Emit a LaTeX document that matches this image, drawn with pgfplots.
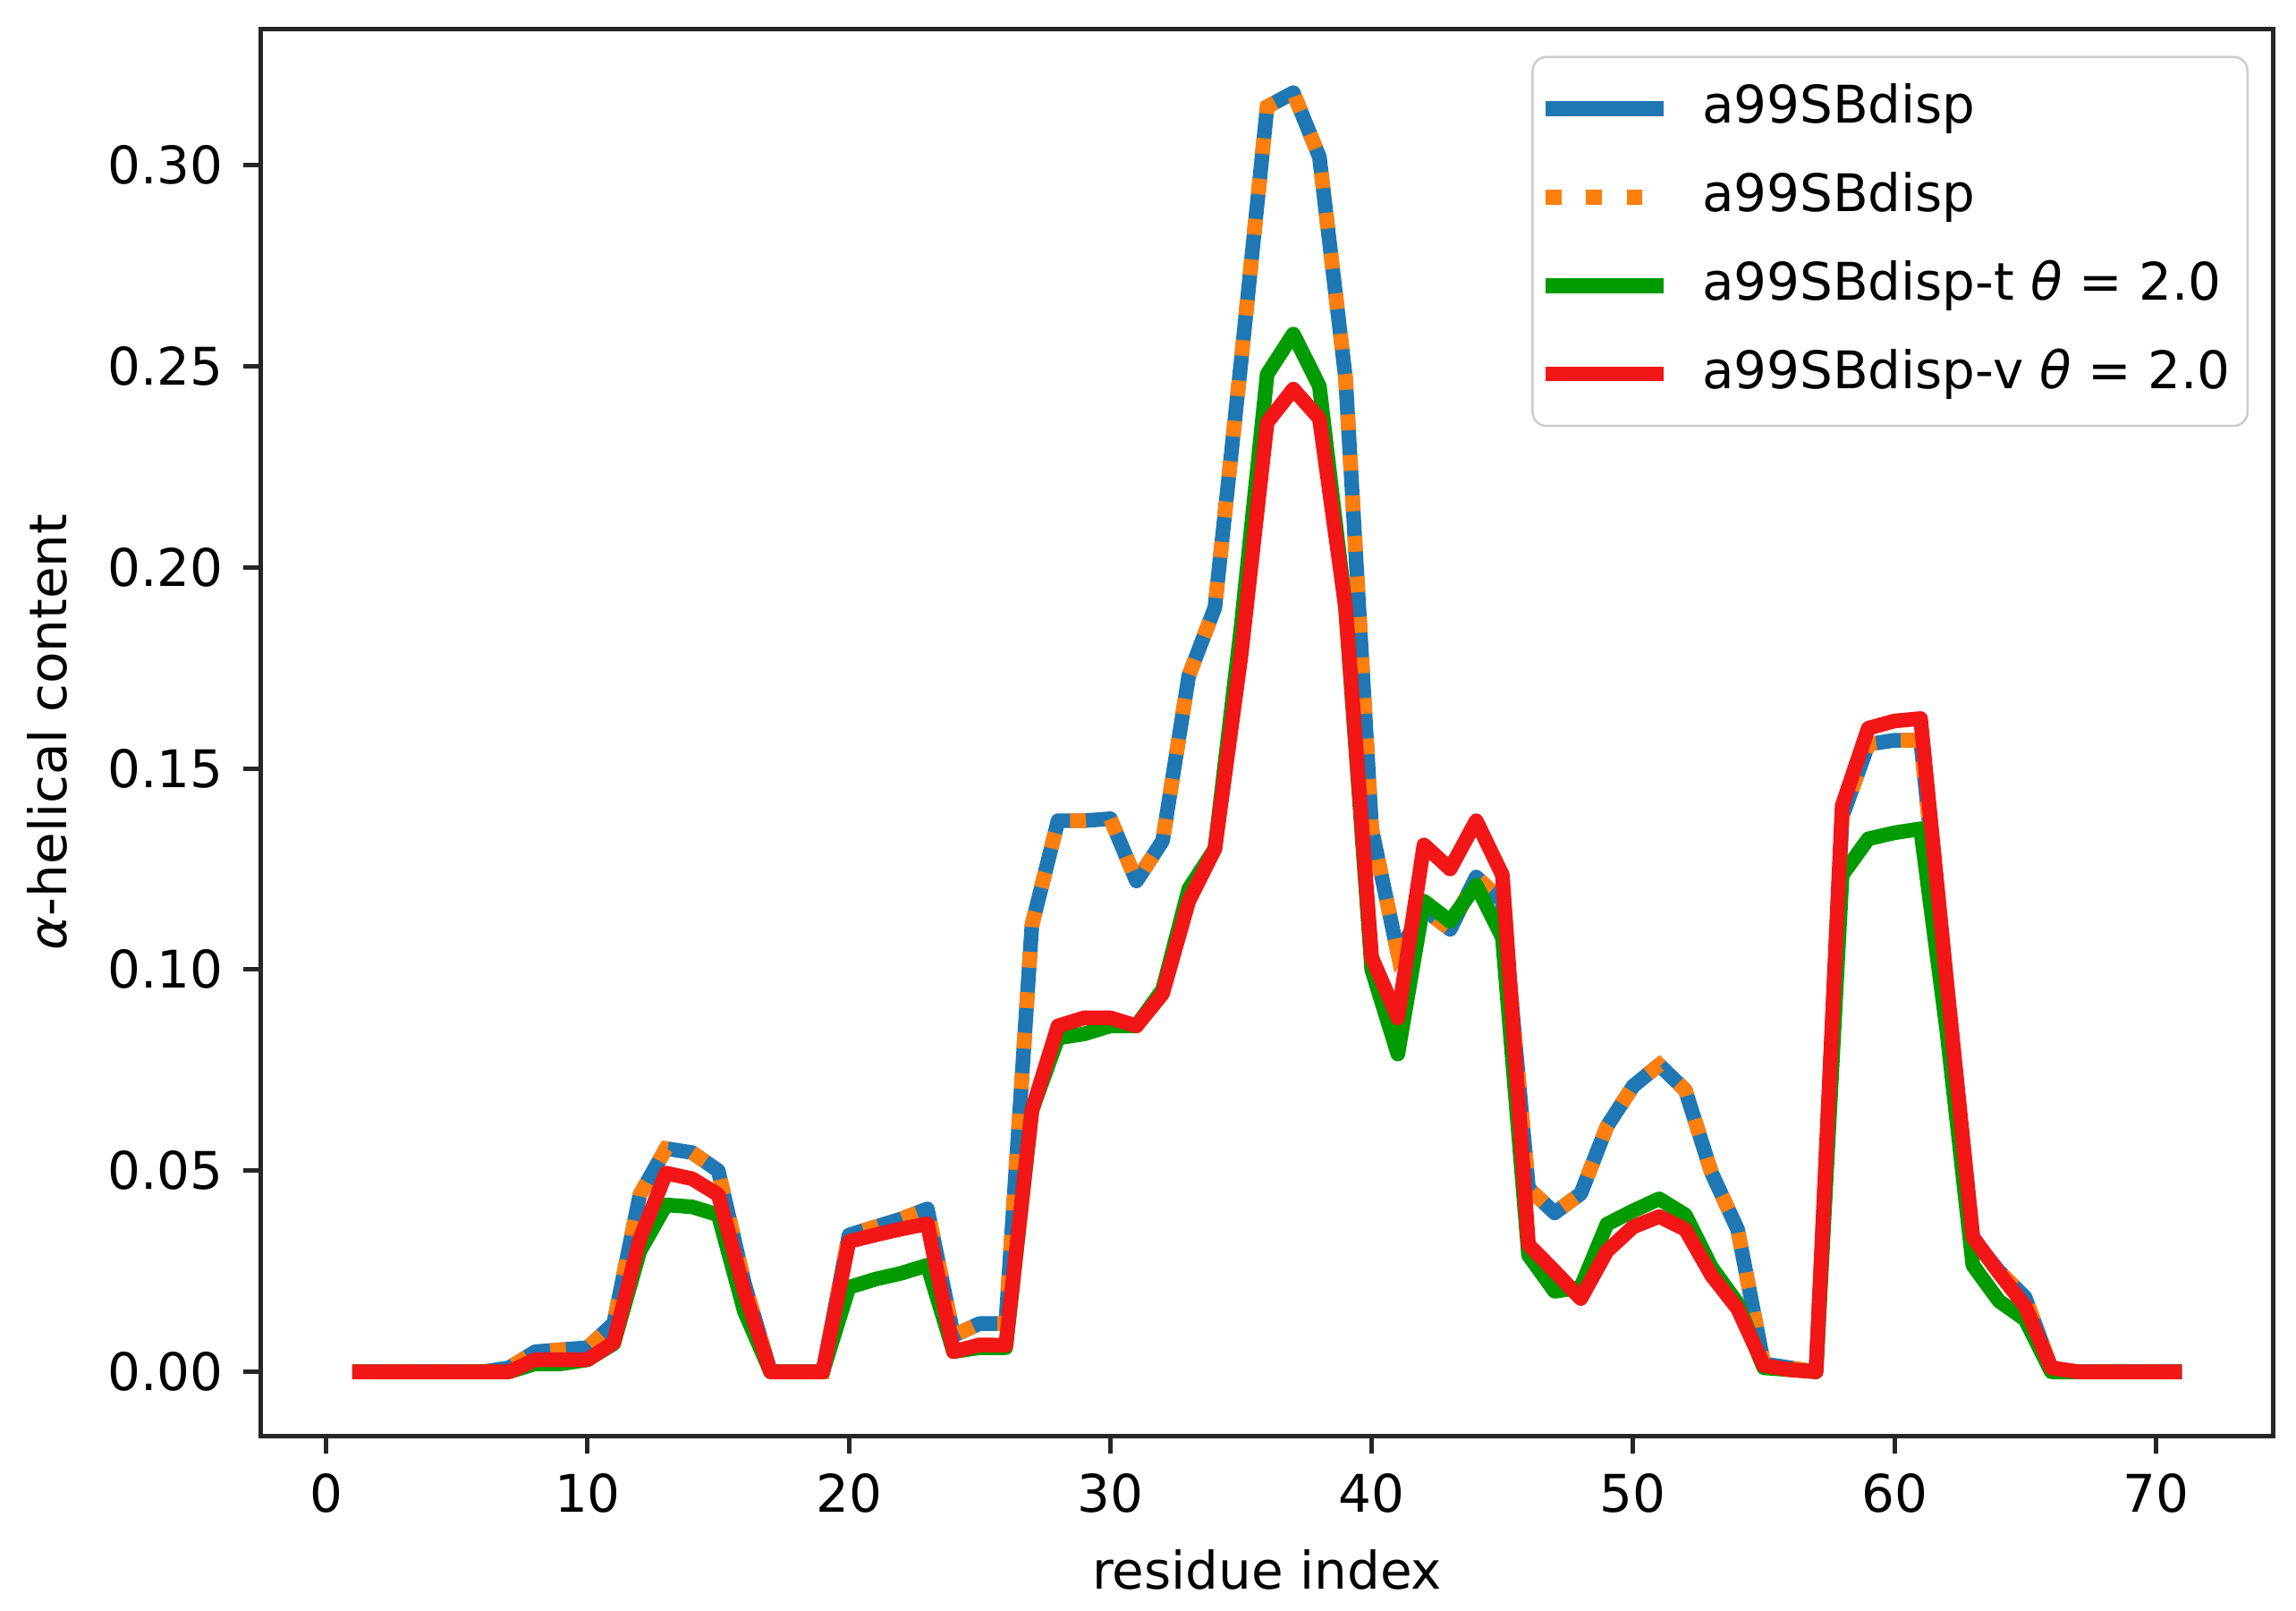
\documentclass[border=0pt]{standalone}
\usepackage{pgfplots}
\pgfplotsset{compat=1.18}
\usepackage{fontspec}
\setmainfont{DejaVu Sans}

\definecolor{cblue}{HTML}{1F77B4}
\definecolor{corange}{HTML}{FF7F0E}
\definecolor{cgreen}{HTML}{009B00}
\definecolor{cred}{HTML}{F21616}

% residue index, a99SBdisp, a99SBdisp-t, a99SBdisp-v
\pgfplotstableread{
res  base    tvar    vvar
1    0       0       0
2    0       0       0
3    0       0       0
4    0       0       0
5    0       0       0
6    0       0       0
7    0.001   0       0
8    0.005   0.002   0.003
9    0.0055  0.002   0.003
10   0.006   0.003   0.003
11   0.012   0.007   0.0073
12   0.044   0.030   0.033
13   0.0555  0.0415  0.0494
14   0.0545  0.041   0.048
15   0.050   0.039   0.044
16   0.022   0.015   0.020
17   0       0       0
18   0       0       0
19   0       0       0
20   0.034   0.021   0.0324
21   0.036   0.023   0.034
22   0.038   0.0245  0.0355
23   0.0405  0.0265  0.0368
24   0.009   0.005   0.005
25   0.012   0.006   0.0067
26   0.012   0.006   0.0066
27   0.111   0.065   0.065
28   0.137   0.083   0.086
29   0.137   0.084   0.088
30   0.1375  0.086   0.088
31   0.122   0.086   0.086
32   0.132   0.095   0.094
33   0.173   0.120   0.117
34   0.190   0.130   0.130
35   0.251   0.185   0.178
36   0.3145  0.248   0.236
37   0.318   0.258   0.2443
38   0.302   0.245   0.237
39   0.247   0.190   0.190
40   0.135   0.100   0.103
41   0.104   0.079   0.088
42   0.115   0.117   0.131
43   0.110   0.112   0.125
44   0.123   0.121   0.137
45   0.117   0.108   0.1235
46   0.0456  0.029   0.0316
47   0.0395  0.020   0.025
48   0.0443  0.021   0.0182
49   0.061   0.0367  0.030
50   0.071   0.040   0.036
51   0.0763  0.043   0.0386
52   0.070   0.039   0.0354
53   0.0495  0.026   0.024
54   0.0354  0.017   0.0157
55   0.002   0.001   0.0016
56   0.001   0.0005  0.0005
57   0       0       0
58   0.138   0.1235  0.1407
59   0.156   0.1325  0.160
60   0.157   0.134   0.1618
61   0.157   0.135   0.1624
62   0.095   0.085   0.097
63   0.033   0.0265  0.0335
64   0.025   0.0176  0.0246
65   0.0185  0.013   0.0163
66   0.001   0       0.001
67   0       0       0
68   0       0       0
69   0       0       0
70   0       0       0
71   0       0       0
}\helix

\begin{document}
\begin{tikzpicture}
\useasboundingbox (-46.3pt,-31pt) rectangle (361.2pt,254.8pt);
\begin{axis}[
    scale only axis,
    width=357.2pt, height=249.7pt,
    xmin=-2.5, xmax=74.5,
    ymin=-0.0159, ymax=0.3339,
    xtick={0,10,...,70},
    ytick={0,0.05,0.10,0.15,0.20,0.25,0.30},
    yticklabel style={/pgf/number format/fixed, /pgf/number format/fixed zerofill, /pgf/number format/precision=2},
    /pgf/number format/assume math mode=true,
    tick pos=left,
    tick align=outside,
    major tick length=3.2pt,
    axis line style={line width=0.8pt, black!85},
    every tick/.style={line width=0.8pt, black!85},
    font=\fontsize{9.2}{11}\selectfont,
    every axis x label/.style={at={(axis description cs:0.5,-0.095)}, anchor=center},
    every axis y label/.style={at={(axis description cs:-0.106,0.5)}, rotate=90, anchor=center},
    xlabel={residue index},
    ylabel={\textit{α}-helical content},
    legend cell align=left,
    legend image code/.code={\draw[#1] (0pt,0pt) -- (21pt,0pt); \path (24.5pt,0pt);},
    legend style={at={(1,1)}, anchor=north east, xshift=-4.4pt, yshift=-4.8pt,
        draw=black!20, rounded corners=2.5pt, fill=white, fill opacity=0.8,
        text opacity=1, draw opacity=1, inner xsep=1pt, inner ysep=2.2pt,
        row sep=1.7pt, font=\fontsize{9.2}{11}\selectfont,
        nodes={inner sep=2pt, text height=7.5pt, text depth=2.5pt}},
]
\addplot[cblue, line width=2.6pt, line join=round] table[x=res, y=base] {\helix};
\addplot[corange, line width=2.6pt, line cap=butt, dash pattern=on 2.8pt off 4.4pt] table[x=res, y=base] {\helix};
\addplot[cgreen, line width=2.6pt, line join=round] table[x=res, y=tvar] {\helix};
\addplot[cred, line width=2.6pt, line join=round] table[x=res, y=vvar] {\helix};
\legend{a99SBdisp, a99SBdisp, a99SBdisp-t \textit{θ} = 2.0, a99SBdisp-v \textit{θ} = 2.0}
\end{axis}
\end{tikzpicture}
\end{document}
